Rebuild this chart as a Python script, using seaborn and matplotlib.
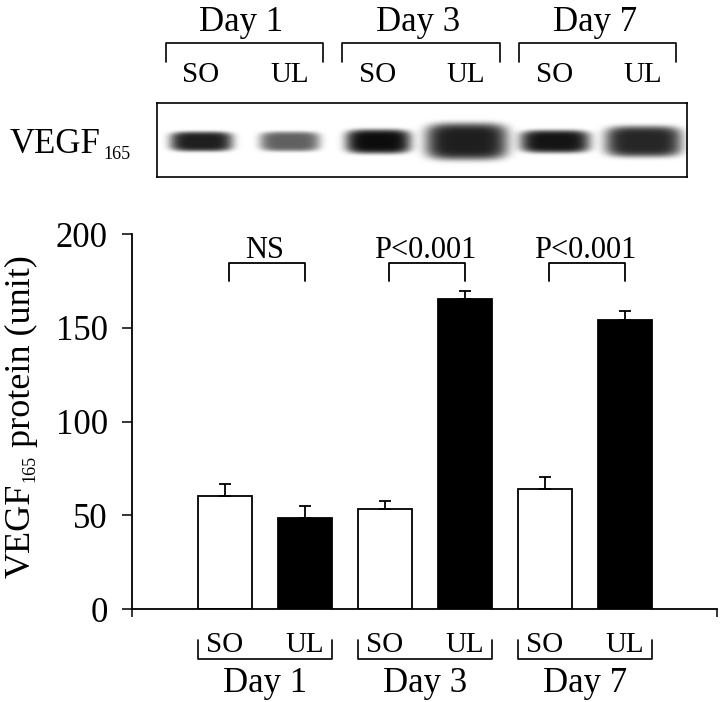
import numpy as np
import pandas as pd
import matplotlib.pyplot as plt
import seaborn as sns

# values
days = ["Day 1", "Day 3", "Day 7"]
treatments = ["SO", "UL"]
so_mean = [60.3, 53.5, 64.2]
ul_mean = [48.7, 165.2, 154.1]
so_err = [6.2, 4.1, 6.4]
ul_err = [6.3, 4.8, 5.0]
sig_labels = ["NS", "P<0.001", "P<0.001"]

# western blot band appearance (lanes SO1, UL1, SO3, UL3, SO7, UL7)
band_intensity = [0.88, 0.62, 0.95, 0.88, 0.92, 0.85]
band_width = [0.71, 0.68, 0.74, 0.93, 0.79, 0.87]
band_height = [0.27, 0.27, 0.33, 0.50, 0.31, 0.42]

conds = []
vals = []
errs = []
treats = []
for i, d in enumerate(days):
    conds += [d + " SO", d + " UL"]
    vals += [so_mean[i], ul_mean[i]]
    errs += [so_err[i], ul_err[i]]
    treats += treatments
df = pd.DataFrame({"cond": conds, "val": vals, "err": errs, "treat": treats})

sns.set_style("ticks")
plt.rcParams["font.family"] = ["Liberation Serif", "DejaVu Serif"]
plt.rcParams["axes.linewidth"] = 1.3
for key in ["text.color", "axes.labelcolor", "xtick.color", "ytick.color", "axes.edgecolor"]:
    plt.rcParams[key] = "black"

W, H = 720, 702
fig = plt.figure(figsize=(W / 100, H / 100), dpi=100)
ax = fig.add_axes([131.7 / W, 1 - 609 / H, (716.7 - 131.7) / W, (609 - 234.3) / H])
bax = fig.add_axes([156.7 / W, 1 - 176.7 / H, (687 - 156.7) / W, (176.7 - 103.3) / H])

bw = 0.667
sns.barplot(data=df, x="cond", y="val", hue="treat", order=conds,
            hue_order=treatments, palette={"SO": "white", "UL": "black"},
            dodge=False, width=bw, edgecolor="black", linewidth=1.3,
            errorbar=None, legend=False, ax=ax)

pos = np.arange(len(conds))
ax.errorbar(pos, df["val"], yerr=[np.zeros(len(pos)), df["err"]], fmt="none",
            ecolor="black", elinewidth=1.3, capsize=4, capthick=1.3)

xmin, xmax = -1.166, 6.146
ax.set_xlim(xmin, xmax)
ax.set_ylim(0, 200)
ax.set_yticks([0, 50, 100, 150, 200])
ax.tick_params(axis="y", labelsize=25, length=7.2, width=1.1, pad=10, direction="out")
ax.set_xticks([xmin, xmax])
ax.set_xticklabels(["", ""])
ax.tick_params(axis="x", length=5.8, width=1.1, direction="out")
ax.set_xlabel("")
ax.set_ylabel("")
sns.despine(ax=ax)

# significance brackets
for i, lab in enumerate(sig_labels):
    a, b = 2 * i + 0.05, 2 * i + 1
    ax.plot([a, a, b, b], [175, 184.5, 184.5, 175], color="black", lw=1.3, clip_on=False)
    ax.text(2 * i + 0.5, 187.5, lab, ha="center", va="baseline", fontsize=22)

# group labels under the axis
tr = ax.get_xaxis_transform()
for i, d in enumerate(days):
    for j, t in enumerate(treatments):
        ax.text(2 * i + j, -0.114, t, transform=tr, ha="center", va="baseline", fontsize=21)
    a, b = 2 * i - bw / 2, 2 * i + 1 + bw / 2
    ax.plot([a, a, b, b], [-0.0827, -0.1334, -0.1334, -0.0827], transform=tr,
            color="black", lw=1.2, clip_on=False)
    ax.text(2 * i + 0.5, -0.2207, d, transform=tr, ha="center", va="baseline", fontsize=25)

# y label with subscript
t1 = fig.text(38 / W, 1 - 578 / H, "VEGF", rotation=90, ha="right", va="bottom", fontsize=26)
t2 = ax.annotate("165", xy=(1, 1), xycoords=t1, xytext=(0, 1), textcoords="offset points",
                 rotation=90, ha="right", va="bottom", fontsize=13, annotation_clip=False)
ax.annotate("protein (unit)", xy=(1, 1), xycoords=(t1, t2), xytext=(0, 6),
            textcoords="offset points", rotation=90, ha="right", va="bottom",
            fontsize=26, annotation_clip=False)

# western blot panel
nlanes = len(band_intensity)
xs = np.linspace(0, nlanes, 900)
ys = np.linspace(0, 1, 120)
X, Y = np.meshgrid(xs, ys)
img = np.zeros_like(X)
for k in range(nlanes):
    hw = band_width[k] / 2
    hh = band_height[k] / 2
    s = (np.abs(X - (k + 0.5)) / hw) ** 4 + (np.abs(Y - 0.48) / hh) ** 4
    img += band_intensity[k] * np.exp(-s ** 1.5)
bax.imshow(img, cmap="gray_r", vmin=0, vmax=1, extent=[0, nlanes, 0, 1],
           origin="lower", aspect="auto", interpolation="bilinear")
bax.set_xlim(0, nlanes)
bax.set_ylim(0, 1)
bax.set_xticks([])
bax.set_yticks([])
for sp in bax.spines.values():
    sp.set_linewidth(1.2)
    sp.set_visible(True)

for k in range(nlanes):
    bax.text(k + 0.5, 1.294, treatments[k % 2], ha="center", va="baseline",
             fontsize=21, clip_on=False)
for i, d in enumerate(days):
    a, b = 2 * i + 0.1, 2 * i + 1.88
    bax.plot([a, a, b, b], [1.56, 1.82, 1.82, 1.56], color="black", lw=1.2, clip_on=False)
    bax.text(2 * i + 0.96, 1.99, d, ha="center", va="baseline", fontsize=25, clip_on=False)

tv = fig.text(10 / W, 1 - 153 / H, "VEGF", fontsize=25, va="baseline", ha="left")
bax.annotate("165", xy=(1, 0), xycoords=tv, xytext=(1.5, 1.5), textcoords="offset points",
             ha="left", va="baseline", fontsize=13, annotation_clip=False)

fig.savefig("out.png", dpi=100)
